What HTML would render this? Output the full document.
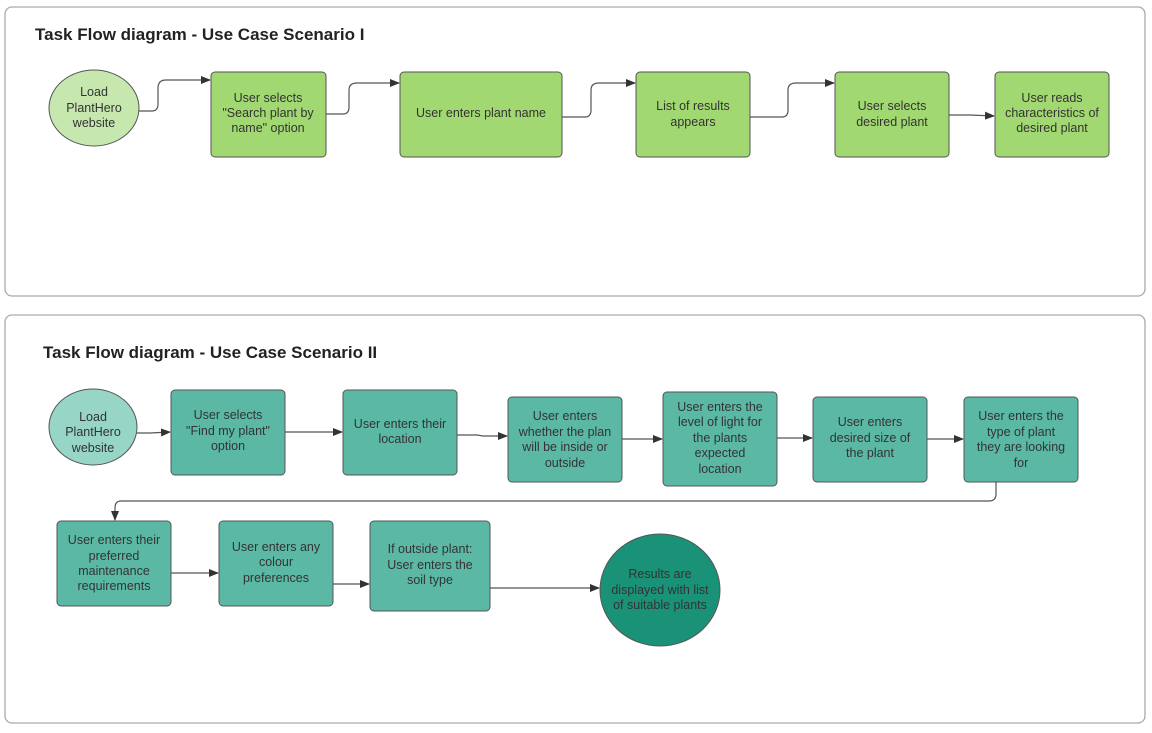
<!DOCTYPE html>
<html><head><meta charset="utf-8"><style>
body{margin:0;background:#fff;}
svg text{font-family:"Liberation Sans",sans-serif;fill:#333;}
</style></head><body>
<svg width="1152" height="728" viewBox="0 0 1152 728" xmlns="http://www.w3.org/2000/svg">
<defs><marker id="a" markerWidth="10" markerHeight="8" refX="9" refY="4" orient="auto" markerUnits="userSpaceOnUse"><path d="M0,0 L10,4 L0,8 z" fill="#333"/></marker></defs>
<rect x="5" y="7" width="1140" height="289" rx="7" fill="#fff" stroke="#aaa" stroke-width="1.3"/>
<rect x="5" y="315" width="1140" height="408" rx="7" fill="#fff" stroke="#aaa" stroke-width="1.3"/>
<text x="35" y="40" font-size="17" font-weight="bold" style="fill:#222">Task Flow diagram - Use Case Scenario I</text>
<text x="43" y="358" font-size="17" font-weight="bold" style="fill:#222">Task Flow diagram - Use Case Scenario II</text>

<g stroke="#555" stroke-width="1.2" fill="none" marker-end="url(#a)">
<path d="M139,111 H152 Q158,111 158,104 V88 Q158,80 166,80 H210"/>
<path d="M326,114 H343 Q349,114 349,107 V90 Q349,83 357,83 H399"/>
<path d="M562,117 H585 Q591,117 591,110 V90 Q591,83 599,83 H635"/>
<path d="M750,117 H782 Q788,117 788,110 V90 Q788,83 796,83 H834"/>
<path d="M949,115 H970 L994,116"/>
<path d="M137,433 H150 L170,432"/>
<path d="M285,432 H342"/>
<path d="M457,435 H477 L483,436 H507"/>
<path d="M622,439 H662"/>
<path d="M777,438 H812"/>
<path d="M927,439 H963"/>
<path d="M996,482 V494 Q996,501 989,501 H121 Q115,501 115,508 V520"/>
<path d="M171,573 H218"/>
<path d="M333,584 H369"/>
<path d="M490,588 H599"/>
</g>

<g stroke="#555" stroke-width="1">
<ellipse cx="94" cy="108" rx="45" ry="38" fill="#c6e8ae"/>
<rect x="211" y="72" width="115" height="85" rx="4" fill="#a1d871"/>
<rect x="400" y="72" width="162" height="85" rx="4" fill="#a1d871"/>
<rect x="636" y="72" width="114" height="85" rx="4" fill="#a1d871"/>
<rect x="835" y="72" width="114" height="85" rx="4" fill="#a1d871"/>
<rect x="995" y="72" width="114" height="85" rx="4" fill="#a1d871"/>

<ellipse cx="93" cy="427" rx="44" ry="38" fill="#97d5c7"/>
<rect x="171" y="390" width="114" height="85" rx="4" fill="#5bb8a5"/>
<rect x="343" y="390" width="114" height="85" rx="4" fill="#5bb8a5"/>
<rect x="508" y="397" width="114" height="85" rx="4" fill="#5bb8a5"/>
<rect x="663" y="392" width="114" height="94" rx="4" fill="#5bb8a5"/>
<rect x="813" y="397" width="114" height="85" rx="4" fill="#5bb8a5"/>
<rect x="964" y="397" width="114" height="85" rx="4" fill="#5bb8a5"/>
<rect x="57" y="521" width="114" height="85" rx="4" fill="#5bb8a5"/>
<rect x="219" y="521" width="114" height="85" rx="4" fill="#5bb8a5"/>
<rect x="370" y="521" width="120" height="90" rx="4" fill="#5bb8a5"/>
<ellipse cx="660" cy="590" rx="60" ry="56" fill="#1a9277"/>
</g>

<g font-size="12.5" text-anchor="middle">
<text x="94" y="96">Load</text><text x="94" y="112">PlantHero</text><text x="94" y="127">website</text>
<text x="268" y="102">User selects</text><text x="268" y="117">"Search plant by</text><text x="268" y="132">name" option</text>
<text x="481" y="117">User enters plant name</text>
<text x="693" y="110">List of results</text><text x="693" y="126">appears</text>
<text x="892" y="110">User selects</text><text x="892" y="126">desired plant</text>
<text x="1052" y="102">User reads</text><text x="1052" y="117">characteristics of</text><text x="1052" y="132">desired plant</text>

<text x="93" y="421">Load</text><text x="93" y="436">PlantHero</text><text x="93" y="452">website</text>
<text x="228" y="419">User selects</text><text x="228" y="435">"Find my plant"</text><text x="228" y="450">option</text>
<text x="400" y="428">User enters their</text><text x="400" y="443">location</text>
<text x="565" y="420">User enters</text><text x="565" y="436">whether the plan</text><text x="565" y="451">will be inside or</text><text x="565" y="467">outside</text>
<text x="720" y="411">User enters the</text><text x="720" y="426">level of light for</text><text x="720" y="442">the plants</text><text x="720" y="457">expected</text><text x="720" y="473">location</text>
<text x="870" y="426">User enters</text><text x="870" y="442">desired size of</text><text x="870" y="457">the plant</text>
<text x="1021" y="420">User enters the</text><text x="1021" y="436">type of plant</text><text x="1021" y="451">they are looking</text><text x="1021" y="467">for</text>
<text x="114" y="544">User enters their</text><text x="114" y="560">preferred</text><text x="114" y="575">maintenance</text><text x="114" y="590">requirements</text>
<text x="276" y="551">User enters any</text><text x="276" y="566">colour</text><text x="276" y="582">preferences</text>
<text x="430" y="553">If outside plant:</text><text x="430" y="569">User enters the</text><text x="430" y="584">soil type</text>
<text x="660" y="578">Results are</text><text x="660" y="594">displayed with list</text><text x="660" y="609">of suitable plants</text>
</g>
</svg>
</body></html>
